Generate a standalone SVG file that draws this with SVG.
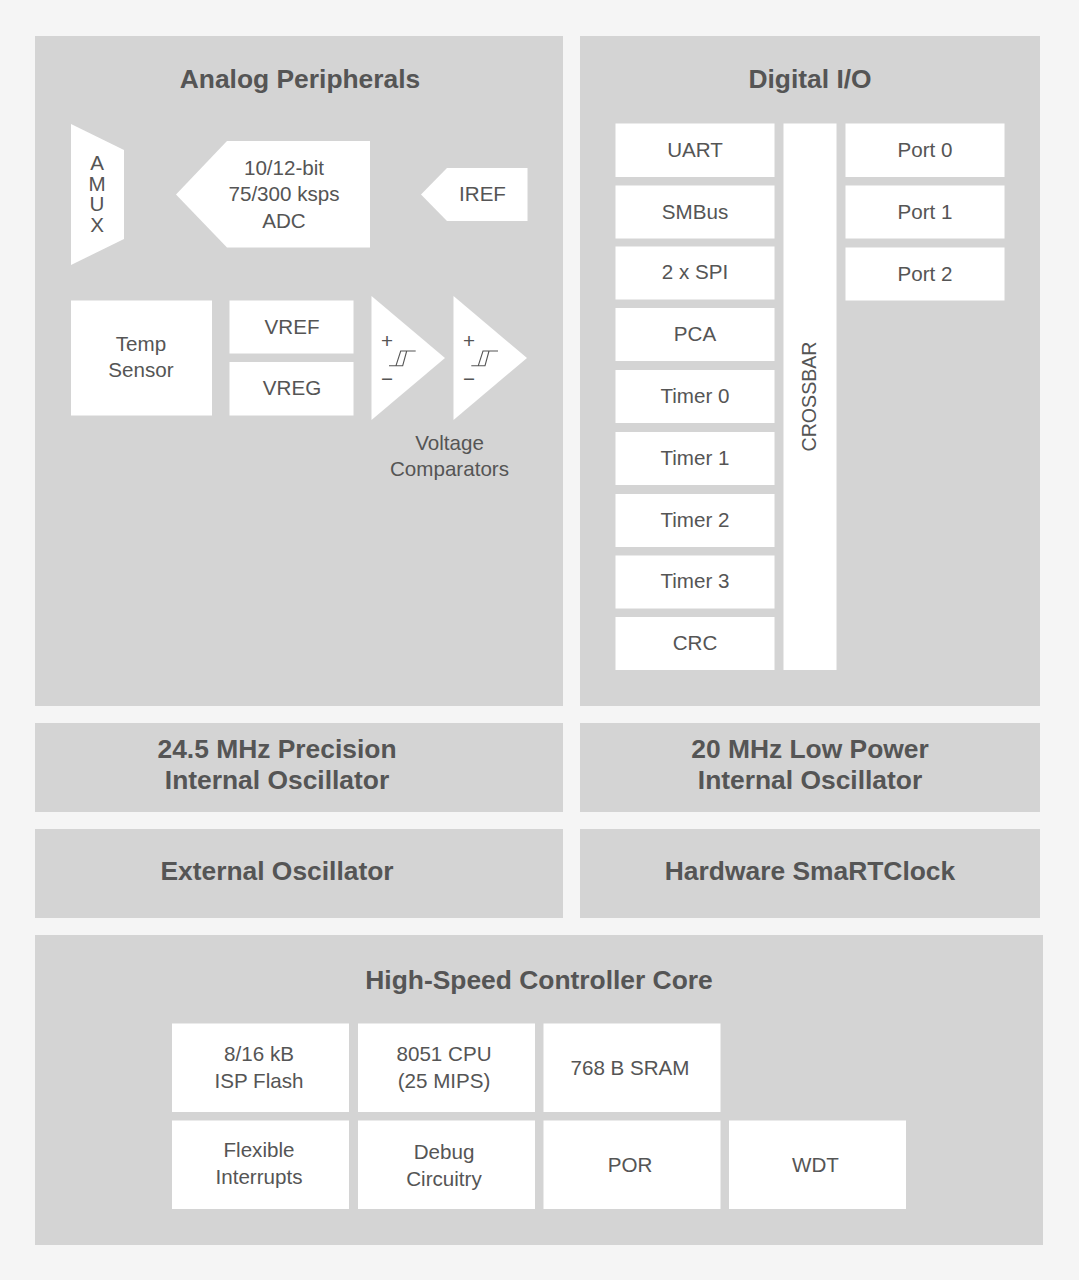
<svg xmlns="http://www.w3.org/2000/svg" width="1079" height="1280" viewBox="0 0 1079 1280">
<style>
text{font-family:"Liberation Sans",Arial,sans-serif;fill:#555;text-anchor:middle}
.p{fill:#d4d4d4}
.w{fill:#fff}
.t{font-size:26.4px;font-weight:700}
.l{font-size:20.6px}
.s{fill:none;stroke:#555;stroke-width:1.1}
</style>
<rect width="1079" height="1280" fill="#f5f5f5"/>
<g id="analog"><rect class="p" x="35" y="36" width="528" height="670"/><text class="t" x="300" y="88">Analog Peripherals</text></g>
<g id="digital"><rect class="p" x="580" y="36" width="460" height="670"/><text class="t" x="810" y="88">Digital I/O</text></g>
<g id="osc245"><rect class="p" x="35" y="723" width="528" height="89"/><text class="t" x="277" y="758">24.5 MHz Precision</text><text class="t" x="277" y="789">Internal Oscillator</text></g>
<g id="osc20"><rect class="p" x="580" y="723" width="460" height="89"/><text class="t" x="810" y="758">20 MHz Low Power</text><text class="t" x="810" y="789">Internal Oscillator</text></g>
<g id="extosc"><rect class="p" x="35" y="829" width="528" height="89"/><text class="t" x="277" y="880">External Oscillator</text></g>
<g id="smartclock"><rect class="p" x="580" y="829" width="460" height="89"/><text class="t" x="810" y="880">Hardware SmaRTClock</text></g>
<g id="core"><rect class="p" x="35" y="935" width="1008" height="310"/><text class="t" x="539" y="989">High-Speed Controller Core</text></g>

<g id="amux"><polygon class="w" points="71,124 124,150 124,239 71,265"/><text class="l"><tspan x="97" y="170">A</tspan><tspan x="97" y="191">M</tspan><tspan x="97" y="211">U</tspan><tspan x="97" y="232">X</tspan></text></g>
<g id="adc"><polygon class="w" points="370,141 227,141 176,194.500 227,247.500 370,247.500"/><text class="l" x="284" y="175">10/12-bit</text><text class="l" x="284" y="201">75/300 ksps</text><text class="l" x="284" y="228">ADC</text></g>
<g id="iref"><polygon class="w" points="527.500,168 447,168 421,194.500 447,221 527.500,221"/><text class="l" x="482.500" y="201">IREF</text></g>
<g id="temp"><rect class="w" x="71" y="300.500" width="141" height="115"/><text class="l" x="141" y="351">Temp</text><text class="l" x="141" y="377">Sensor</text></g>
<g id="vref"><rect class="w" x="229.500" y="300.500" width="124" height="53"/><text class="l" x="292" y="333.500">VREF</text></g>
<g id="vreg"><rect class="w" x="229.500" y="362" width="124" height="53.500"/><text class="l" x="292" y="395">VREG</text></g>
<g id="comp1"><polygon class="w" points="371.500,296 445,358 371.500,420"/><text class="l" x="387" y="348">+</text><text class="l" x="387" y="386">−</text><path class="s" d="M389,365.700H402.700L406.700,351M396,365.700L400.700,351H415.700"/></g>
<g id="comp2"><polygon class="w" points="453.500,296 527,358 453.500,420"/><text class="l" x="469" y="348">+</text><text class="l" x="469" y="386">−</text><path class="s" d="M471.300,365.700H485L489,351M478.300,365.700L483,351H498"/></g>
<g id="voltage-label"><text class="l" x="449.500" y="450">Voltage</text><text class="l" x="449.500" y="476">Comparators</text></g>

<g id="uart"><rect class="w" x="615.500" y="123.500" width="159" height="53.500"/><text class="l" x="695" y="157">UART</text></g>
<g id="smbus"><rect class="w" x="615.500" y="185.500" width="159" height="53"/><text class="l" x="695" y="218.500">SMBus</text></g>
<g id="spi"><rect class="w" x="615.500" y="246.500" width="159" height="53"/><text class="l" x="695" y="279">2 x SPI</text></g>
<g id="pca"><rect class="w" x="615.500" y="308" width="159" height="53"/><text class="l" x="695" y="341">PCA</text></g>
<g id="timer0"><rect class="w" x="615.500" y="370" width="159" height="53"/><text class="l" x="695" y="403">Timer 0</text></g>
<g id="timer1"><rect class="w" x="615.500" y="432" width="159" height="53"/><text class="l" x="695" y="465">Timer 1</text></g>
<g id="timer2"><rect class="w" x="615.500" y="494" width="159" height="53"/><text class="l" x="695" y="527">Timer 2</text></g>
<g id="timer3"><rect class="w" x="615.500" y="555.500" width="159" height="53"/><text class="l" x="695" y="588">Timer 3</text></g>
<g id="crc"><rect class="w" x="615.500" y="617" width="159" height="53"/><text class="l" x="695" y="650">CRC</text></g>
<g id="crossbar"><rect class="w" x="783.500" y="123.500" width="53" height="546.500"/><text class="l" style="font-size:19.6px" transform="translate(816 396.500) rotate(-90)">CROSSBAR</text></g>
<g id="port0"><rect class="w" x="845.500" y="123.500" width="159" height="53.500"/><text class="l" x="925" y="157">Port 0</text></g>
<g id="port1"><rect class="w" x="845.500" y="185.500" width="159" height="53"/><text class="l" x="925" y="218.500">Port 1</text></g>
<g id="port2"><rect class="w" x="845.500" y="247.500" width="159" height="53"/><text class="l" x="925" y="281">Port 2</text></g>

<g id="flash"><rect class="w" x="172" y="1023.500" width="177" height="88.500"/><text class="l" x="259" y="1061">8/16 kB</text><text class="l" x="259" y="1088">ISP Flash</text></g>
<g id="cpu"><rect class="w" x="358" y="1023.500" width="177" height="88.500"/><text class="l" x="444" y="1061">8051 CPU</text><text class="l" x="444" y="1088">(25 MIPS)</text></g>
<g id="sram"><rect class="w" x="543.500" y="1023.500" width="177" height="88.500"/><text class="l" x="630" y="1074.500">768 B SRAM</text></g>
<g id="interrupts"><rect class="w" x="172" y="1120.500" width="177" height="88.500"/><text class="l" x="259" y="1157">Flexible</text><text class="l" x="259" y="1184">Interrupts</text></g>
<g id="debug"><rect class="w" x="358" y="1120.500" width="177" height="88.500"/><text class="l" x="444" y="1159">Debug</text><text class="l" x="444" y="1186">Circuitry</text></g>
<g id="por"><rect class="w" x="543.500" y="1120.500" width="177" height="88.500"/><text class="l" x="630" y="1172">POR</text></g>
<g id="wdt"><rect class="w" x="729" y="1120.500" width="177" height="88.500"/><text class="l" x="815.500" y="1172">WDT</text></g>
<g id="connectors"></g>
</svg>
